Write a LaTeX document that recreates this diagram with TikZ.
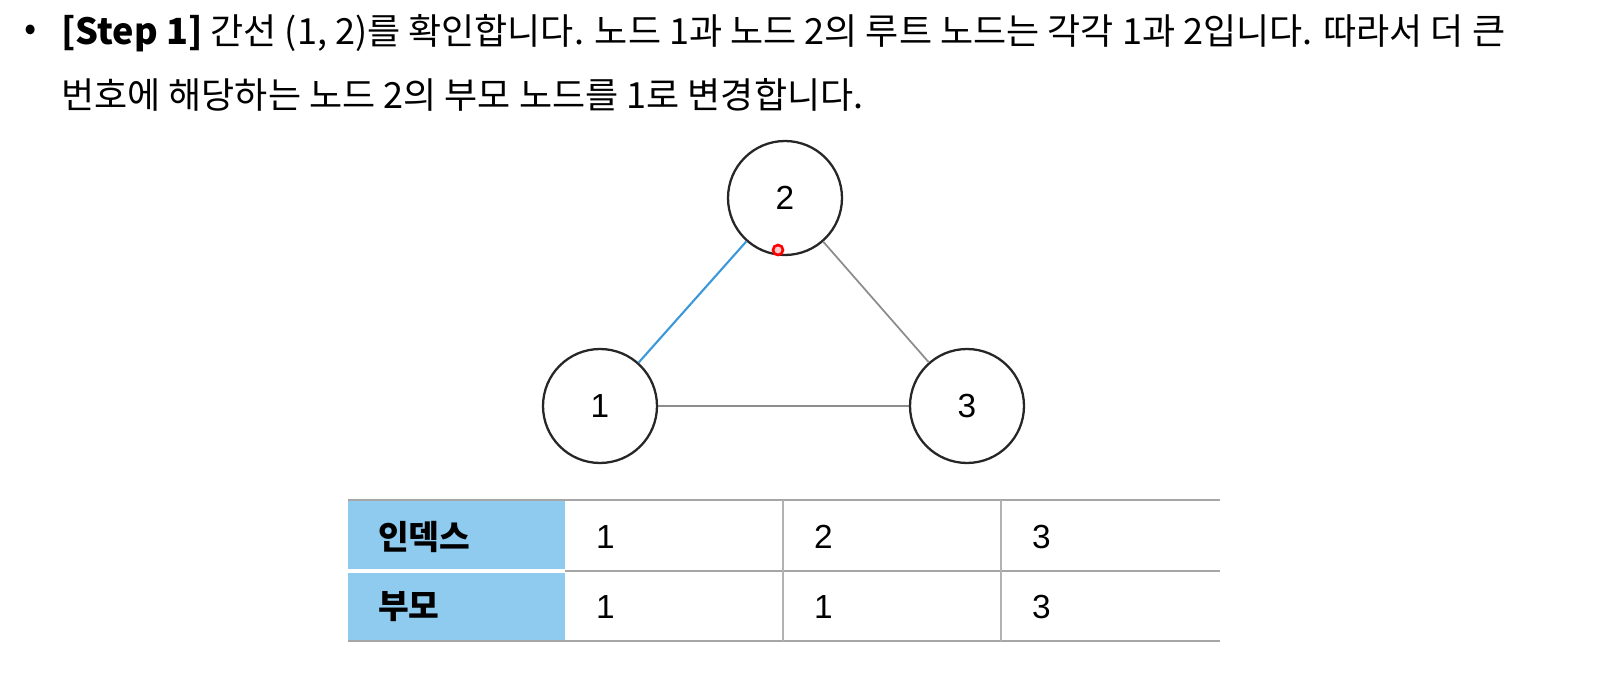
\documentclass[tikz,border=0pt]{standalone}
\usepackage{fontspec}
\setmainfont{Noto Sans CJK KR}
\newfontfamily\numfont{Liberation Sans}
\begin{document}
\begin{tikzpicture}[x=0.02cm,y=-0.02cm,
  vert/.style={circle,draw=black!85,line width=1.3pt,minimum size=2.28cm,inner sep=0pt,font=\numfont\fontsize{19}{22}\selectfont},
  edge/.style={draw=black!45,line width=1pt},
  cell/.style={anchor=west,font=\numfont\fontsize{19}{22}\selectfont},
  hcell/.style={anchor=west,font=\bfseries\fontsize{19}{22}\selectfont},
  txt/.style={anchor=west,font=\fontsize{20.5}{24}\selectfont}]
\node[txt] (b) at (18,33) {•};
\node[txt] (l1) at (55,33) {\textbf{[Step 1]} 간선 (1, 2)를 확인합니다. 노드 1과 노드 2의 루트 노드는 각각 1과 2입니다. 따라서 더 큰};
\node[txt] (l2) at (55,95) {번호에 해당하는 노드 2의 부모 노드를 1로 변경합니다.};
\node[vert] (n2) at (785,198) {2};
\node[vert] (n1) at (600,406) {1};
\node[vert] (n3) at (967,406) {3};
\draw[draw=cyan!70!blue!80,line width=1.2pt] (n1) -- (n2);
\draw[edge] (n2) -- (n3);
\draw[edge] (n1) -- (n3);
\node[circle,draw=red,fill=red!20,line width=1.5pt,minimum size=0.2cm,inner sep=0pt] (cur) at (778,250) {};
\fill[cyan!40!white!92!blue] (348,501) rectangle (565,569);
\fill[cyan!40!white!92!blue] (348,573) rectangle (565,641);
\draw[draw=black!35,line width=1.4pt] (348,500) -- (1220,500);
\draw[draw=black!35,line width=1.4pt] (565,571) -- (1220,571);
\draw[draw=black!35,line width=1.4pt] (348,641) -- (1220,641);
\draw[draw=black!30,line width=1pt] (783,500) -- (783,641) (1001,500) -- (1001,641);
\node[hcell] (h1) at (372,537) {인덱스};
\node[hcell] (h2) at (372,607) {부모};
\node[cell] (a1) at (590,537) {1};
\node[cell] (a2) at (808,537) {2};
\node[cell] (a3) at (1026,537) {3};
\node[cell] (p1) at (590,607) {1};
\node[cell] (p2) at (808,607) {1};
\node[cell] (p3) at (1026,607) {3};
\pgfresetboundingbox
\useasboundingbox (0,0) rectangle (1610,678);
\end{tikzpicture}
\end{document}
